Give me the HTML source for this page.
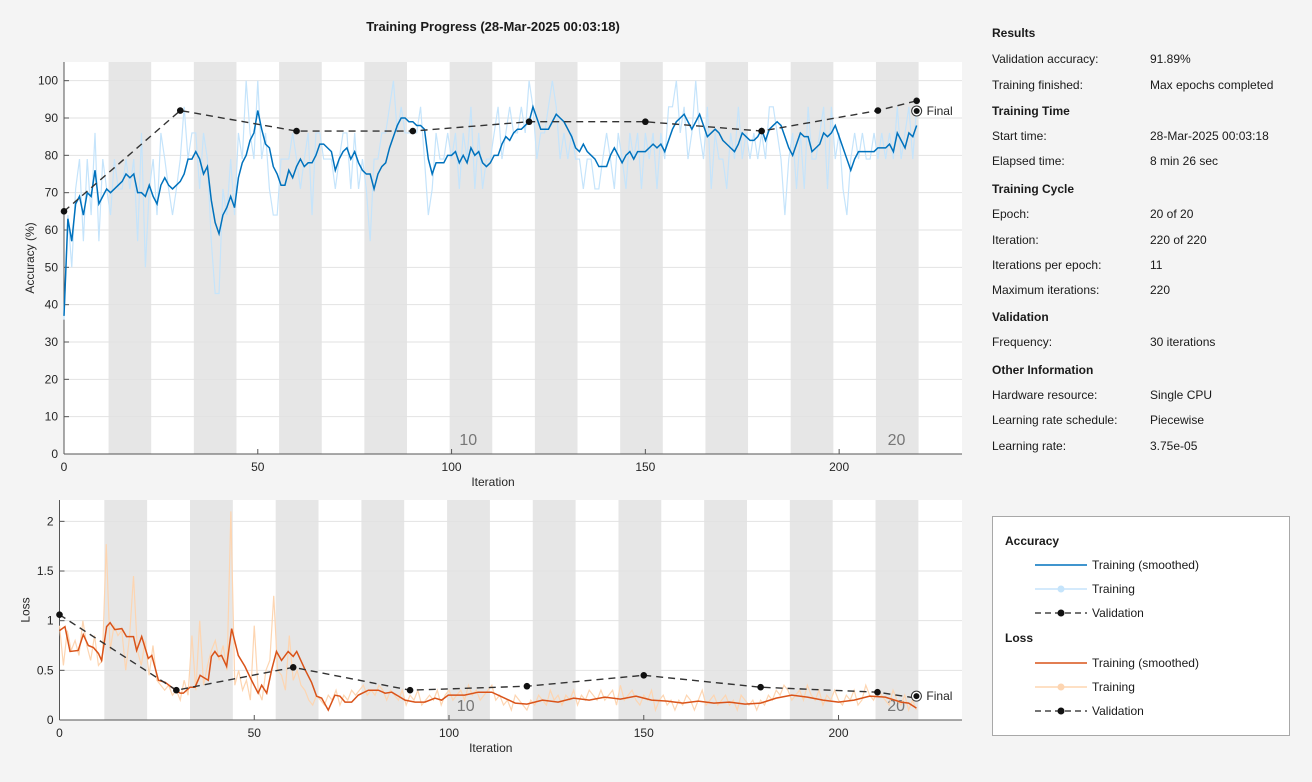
<!DOCTYPE html>
<html><head><meta charset="utf-8">
<style>
body{margin:0;width:1312px;height:782px;background:#f4f4f4;font-family:"Liberation Sans",sans-serif;overflow:hidden;position:relative}
.t{position:absolute;font-size:12px;color:#1a1a1a;white-space:nowrap}
.b{font-weight:bold}
#legend{position:absolute;left:992px;top:516px;width:296px;height:218px;background:#fff;border:1px solid #a8a8a8}
</style></head><body>
<svg id="chart" width="980" height="782" style="position:absolute;left:0;top:0"></svg>

<div class="t b" style="left:992px;top:26px">Results</div>
<div class="t" style="left:992px;top:52px">Validation accuracy:</div>
<div class="t" style="left:1150px;top:52px">91.89%</div>
<div class="t" style="left:992px;top:78px">Training finished:</div>
<div class="t" style="left:1150px;top:78px">Max epochs completed</div>
<div class="t b" style="left:992px;top:104px">Training Time</div>
<div class="t" style="left:992px;top:129px">Start time:</div>
<div class="t" style="left:1150px;top:129px">28-Mar-2025 00:03:18</div>
<div class="t" style="left:992px;top:154px">Elapsed time:</div>
<div class="t" style="left:1150px;top:154px">8 min 26 sec</div>
<div class="t b" style="left:992px;top:182px">Training Cycle</div>
<div class="t" style="left:992px;top:207px">Epoch:</div>
<div class="t" style="left:1150px;top:207px">20 of 20</div>
<div class="t" style="left:992px;top:233px">Iteration:</div>
<div class="t" style="left:1150px;top:233px">220 of 220</div>
<div class="t" style="left:992px;top:258px">Iterations per epoch:</div>
<div class="t" style="left:1150px;top:258px">11</div>
<div class="t" style="left:992px;top:283px">Maximum iterations:</div>
<div class="t" style="left:1150px;top:283px">220</div>
<div class="t b" style="left:992px;top:310px">Validation</div>
<div class="t" style="left:992px;top:335px">Frequency:</div>
<div class="t" style="left:1150px;top:335px">30 iterations</div>
<div class="t b" style="left:992px;top:363px">Other Information</div>
<div class="t" style="left:992px;top:388px">Hardware resource:</div>
<div class="t" style="left:1150px;top:388px">Single CPU</div>
<div class="t" style="left:992px;top:413px">Learning rate schedule:</div>
<div class="t" style="left:1150px;top:413px">Piecewise</div>
<div class="t" style="left:992px;top:439px">Learning rate:</div>
<div class="t" style="left:1150px;top:439px">3.75e-05</div>

<div id="legend">
<svg width="296" height="218" style="position:absolute;left:0;top:0">
<g font-family="Liberation Sans, sans-serif" font-size="12" fill="#1a1a1a">
<text x="12" y="28" font-weight="bold">Accuracy</text>
<g><line x1="42" y1="48" x2="94" y2="48" stroke="#0072bd" stroke-width="1.5"/><text x="99" y="52">Training (smoothed)</text></g>
<g><line x1="42" y1="72" x2="94" y2="72" stroke="#c5e4fb" stroke-width="1.5"/><circle cx="68" cy="72" r="3.5" fill="#c5e4fb"/><text x="99" y="76">Training</text></g>
<g><line x1="42" y1="96" x2="94" y2="96" stroke="#222" stroke-width="1.3" stroke-dasharray="6,4"/><circle cx="68" cy="96" r="3.5" fill="#111"/><text x="99" y="100">Validation</text></g>
<text x="12" y="125" font-weight="bold">Loss</text>
<g><line x1="42" y1="146" x2="94" y2="146" stroke="#d95319" stroke-width="1.5"/><text x="99" y="150">Training (smoothed)</text></g>
<g><line x1="42" y1="170" x2="94" y2="170" stroke="#fdd5b1" stroke-width="1.5"/><circle cx="68" cy="170" r="3.5" fill="#fdd5b1"/><text x="99" y="174">Training</text></g>
<g><line x1="42" y1="194" x2="94" y2="194" stroke="#222" stroke-width="1.3" stroke-dasharray="6,4"/><circle cx="68" cy="194" r="3.5" fill="#111"/><text x="99" y="198">Validation</text></g>
</g></svg></div>

<script>
const accSmooth=[37,63,57,67,69,64,70,69,76,67,69,71,70,71,72,73,75,74,75,70,70,69,72,69,67,72,74,72,71,72,73,75,79,79,81,79,75,77,68,62,59,64,66,69,66,74,78,80,84,86,92,87,83,82,77,75,72,72,76,74,77,79,77,78,78,80,83,83,82,81,76,79,81,82,79,81,78,76,75,75,71,75,77,78,82,85,88,90,90,89,89,88,88,87,79,75,78,78,78,80,80,81,78,80,78,82,80,81,78,77,78,80,80,83,85,84,86,87,87,88,89,93,90,87,87,87,89,91,90,89,87,85,82,81,83,81,80,79,77,77,77,80,82,80,78,80,81,79,81,81,81,82,83,82,83,81,84,87,89,90,91,89,87,89,91,88,85,86,87,86,84,83,82,81,83,86,85,84,84,85,87,84,87,88,89,88,85,82,80,83,86,85,85,81,82,83,86,85,86,88,85,82,79,76,79,81,81,81,81,81,82,82,82,83,81,86,84,82,86,85,88];
const accRaw=[36,64,50,71,79,57,79,64,86,57,79,71,64,79,71,71,79,71,79,57,86,50,71,79,64,86,79,71,64,71,79,93,79,86,86,71,86,79,57,43,43,71,64,79,64,86,79,100,86,79,100,79,86,71,64,64,79,79,79,86,79,71,79,86,64,86,86,79,79,79,71,79,86,86,71,86,71,79,71,57,79,79,86,86,93,100,86,93,86,86,86,86,93,79,64,71,86,79,79,86,79,86,71,86,79,93,71,86,71,79,79,86,93,79,86,93,86,86,93,86,100,93,79,86,86,93,100,93,79,86,79,86,79,79,71,79,79,71,71,79,86,79,71,86,79,71,86,79,86,71,86,79,86,71,86,79,93,93,100,86,93,79,86,100,86,79,93,71,86,79,79,71,86,79,93,79,86,79,86,79,86,79,93,93,86,79,64,79,86,71,86,71,93,79,79,86,93,71,93,79,86,71,64,79,86,79,86,79,79,86,79,86,79,86,79,93,79,86,93,79,93];
const valIter=[0,30,60,90,120,150,180,210,220];
const valAcc=[65,92,86.5,86.5,89,89,86.5,92,94.6];
const finalAcc=91.89;
const lossRaw=[0.95,0.55,0.9,0.7,0.8,0.65,1.0,0.75,0.6,0.85,0.55,0.6,1.77,0.7,0.95,0.85,0.9,0.5,0.85,1.45,0.7,0.55,0.8,0.45,0.75,0.4,0.35,0.3,0.35,0.25,0.3,0.2,0.4,0.25,0.85,0.3,1.0,0.35,0.55,0.7,0.8,0.6,0.75,0.5,2.1,0.35,0.5,0.3,0.4,0.2,0.95,0.3,0.2,0.5,0.6,1.25,0.5,0.45,0.3,0.85,0.4,0.5,0.35,0.3,0.2,0.15,0.25,0.2,0.15,0.25,0.2,0.3,0.15,0.25,0.2,0.3,0.25,0.3,0.35,0.25,0.3,0.25,0.35,0.3,0.2,0.3,0.25,0.2,0.3,0.15,0.25,0.2,0.3,0.15,0.2,0.25,0.2,0.3,0.15,0.25,0.3,0.2,0.25,0.3,0.2,0.35,0.25,0.3,0.2,0.25,0.3,0.35,0.2,0.25,0.15,0.2,0.1,0.25,0.2,0.15,0.1,0.2,0.15,0.25,0.2,0.15,0.3,0.2,0.25,0.15,0.25,0.2,0.3,0.15,0.25,0.2,0.3,0.25,0.2,0.3,0.2,0.25,0.3,0.15,0.35,0.2,0.25,0.3,0.2,0.15,0.25,0.2,0.3,0.1,0.2,0.25,0.15,0.2,0.1,0.2,0.15,0.25,0.2,0.1,0.2,0.3,0.15,0.2,0.25,0.15,0.2,0.25,0.15,0.2,0.1,0.25,0.2,0.15,0.2,0.1,0.2,0.15,0.25,0.2,0.3,0.25,0.35,0.3,0.2,0.25,0.3,0.2,0.35,0.25,0.2,0.3,0.15,0.25,0.2,0.3,0.2,0.15,0.25,0.2,0.3,0.15,0.2,0.35,0.25,0.2,0.3,0.25,0.2,0.15,0.3,0.2,0.15,0.25,0.1,0.2,0.1];
const lossSmoothIter=[0,1.4,2.7,4.8,6.1,7.4,8.7,10,10.8,12.1,13,14.2,16,17.2,19,19.8,21.1,22.8,23.7,25.4,27.1,28.8,31,31.8,33.5,34.8,36.1,36.9,38.2,39,39.9,40.8,41.6,42.9,44.2,45.9,47.6,49.3,51,51.9,53.2,54.5,55.7,57,58.7,60,60.9,63,64.7,66,67.3,69,70.7,72,73.3,75,76.7,79.3,81.9,83.6,85.3,87,88.7,91.3,93.8,96.4,98.1,99.8,104,107.5,111,114.3,117,120,124,128,132,136,140,144,148,152,156,160,164,168,172,176,180,184,188,192,196,200,204,208,212,216,218,220];
const lossSmooth=[0.9,0.94,0.69,0.7,0.86,0.75,0.73,0.67,0.6,0.94,0.98,0.91,0.92,0.84,0.84,0.7,0.84,0.62,0.65,0.4,0.38,0.33,0.27,0.27,0.33,0.33,0.45,0.43,0.4,0.64,0.69,0.64,0.65,0.54,0.92,0.65,0.54,0.4,0.27,0.35,0.27,0.51,0.69,0.6,0.69,0.64,0.69,0.51,0.38,0.24,0.22,0.1,0.25,0.24,0.18,0.18,0.25,0.3,0.3,0.27,0.28,0.24,0.2,0.18,0.18,0.22,0.2,0.25,0.25,0.28,0.28,0.22,0.17,0.16,0.2,0.18,0.22,0.2,0.23,0.21,0.24,0.2,0.19,0.17,0.19,0.17,0.18,0.16,0.17,0.22,0.25,0.23,0.2,0.18,0.2,0.24,0.23,0.18,0.17,0.12];
const valLoss=[1.06,0.30,0.53,0.30,0.34,0.45,0.33,0.28,0.22];
const finalLoss=0.24;
const accTicks=[0,10,20,30,40,50,60,70,80,90,100];
const lossTicks=[0,0.5,1,1.5,2];
const iterTicks=[0,50,100,150,200];
const lossTickLabels=["0","0.5","1","1.5","2"];

const NS="http://www.w3.org/2000/svg";
const svg=document.getElementById('chart');
function mk(tag,attrs,parent){const e=document.createElementNS(NS,tag);for(const k in attrs)e.setAttribute(k,attrs[k]);(parent||svg).appendChild(e);return e;}
const XMAX=231.7;

function panel(p){
  const sx=v=>p.left+v/XMAX*(p.right-p.left);
  const sy=v=>p.bottom-(v-0)/p.ymax*(p.bottom-p.top);
  const g=mk('g',{});
  
  
  const bg=mk('rect',{x:p.left,y:p.top,width:p.right-p.left,height:p.bottom-p.top,fill:'#fff'},g);
  
  
  for(let e=2;e<=20;e+=2){
    const r=mk('rect',{x:sx((e-1)*11+0.5),y:p.top,width:sx(e*11+0.5)-sx((e-1)*11+0.5),height:p.bottom-p.top,fill:'#e6e6e6'},g);
    
    
  }
  p.ticks.forEach((t,i)=>{
    const y=sy(t);
    const l=mk('line',{x1:p.left,x2:p.right,y1:y,y2:y,stroke:'#e2e2e2','stroke-width':1},g);
    
    
    mk('line',{x1:p.left,x2:p.left+5,y1:y,y2:y,stroke:'#555'},g);
    const tx=mk('text',{x:p.left-6,y:y+4,'text-anchor':'end','font-size':12,fill:'#262626'},g);
    tx.textContent=p.labels[i];
    
    
  });
  iterTicks.forEach(t=>{
    const x=sx(t);
    mk('line',{x1:x,x2:x,y1:p.bottom,y2:p.bottom-5,stroke:'#555'},g);
    const tx=mk('text',{x:x,y:p.bottom+17,'text-anchor':'middle','font-size':12,fill:'#262626'},g);
    tx.textContent=t;
    
    
  });
  mk('line',{x1:p.left,x2:p.left,y1:p.top,y2:p.bottom,stroke:'#555'},g);
  mk('line',{x1:p.left,x2:p.right,y1:p.bottom,y2:p.bottom,stroke:'#555'},g);
  [[10,102],[20,212.5]].forEach(([n,it])=>{
    const tx=mk('text',{x:sx(it),y:p.bottom-9,'font-size':16,fill:'#777'},g);
    tx.textContent=n;
    
    
  });
  const xl=mk('text',{x:(p.left+p.right)/2-20,y:p.bottom+32,'text-anchor':'middle','font-size':12,fill:'#262626'},g);
  xl.textContent='Iteration';
  
  
  const yl=mk('text',{x:0,y:0,'text-anchor':'middle','font-size':12,fill:'#262626',transform:`translate(${p.left-30},${(p.top+p.bottom)/2}) rotate(-90)`},g);
  yl.textContent=p.ytitle;
  
  
  const raw=mk('polyline',{points:p.raw.map((v,i)=>sx(i)+','+sy(v)).join(' '),fill:'none',stroke:p.rawCol,'stroke-width':1.2},g);
  
  
  const sm=mk('polyline',{points:p.smooth.map((v,i)=>sx(p.smoothX?p.smoothX[i]:i)+','+sy(v)).join(' '),fill:'none',stroke:p.smCol,'stroke-width':1.5},g);
  
  
  const vl=mk('polyline',{points:p.val.map((v,i)=>sx(valIter[i])+','+sy(v)).join(' '),fill:'none',stroke:'#333','stroke-width':1.4,'stroke-dasharray':'7,5'},g);
  
  
  p.val.forEach((v,i)=>{
    const c=mk('circle',{cx:sx(valIter[i]),cy:sy(v),r:3.3,fill:'#111'},g);
    
    
  });
  const fx=sx(220),fy=sy(p.final);
  mk('circle',{cx:fx,cy:fy,r:5,fill:'#fff',stroke:'#333','stroke-width':1},g);
  const fc=mk('circle',{cx:fx,cy:fy,r:3,fill:'#111'},g);
  
  
  const ft=mk('text',{x:fx+10,y:fy+4,'font-size':12,fill:'#262626'},g);
  ft.textContent='Final';
  
  
}
const title=mk('text',{x:493,y:31,'text-anchor':'middle','font-size':13,'font-weight':'bold',fill:'#1a1a1a'});
title.textContent='Training Progress (28-Mar-2025 00:03:18)';


panel({name:'accuracy',left:64,right:962,top:62,bottom:454,ymax:105,ticks:accTicks,labels:accTicks.map(String),ytitle:'Accuracy (%)',raw:accRaw,smooth:accSmooth,val:valAcc,final:finalAcc,rawCol:'#c5e4fb',smCol:'#0072bd'});
panel({name:'loss',left:59.5,right:962,top:500,bottom:720,ymax:2.215,ticks:lossTicks,labels:lossTickLabels,ytitle:'Loss',raw:lossRaw,smooth:lossSmooth,smoothX:lossSmoothIter,val:valLoss,final:finalLoss,rawCol:'#fdd5b1',smCol:'#d95319'});
</script>
</body></html>
